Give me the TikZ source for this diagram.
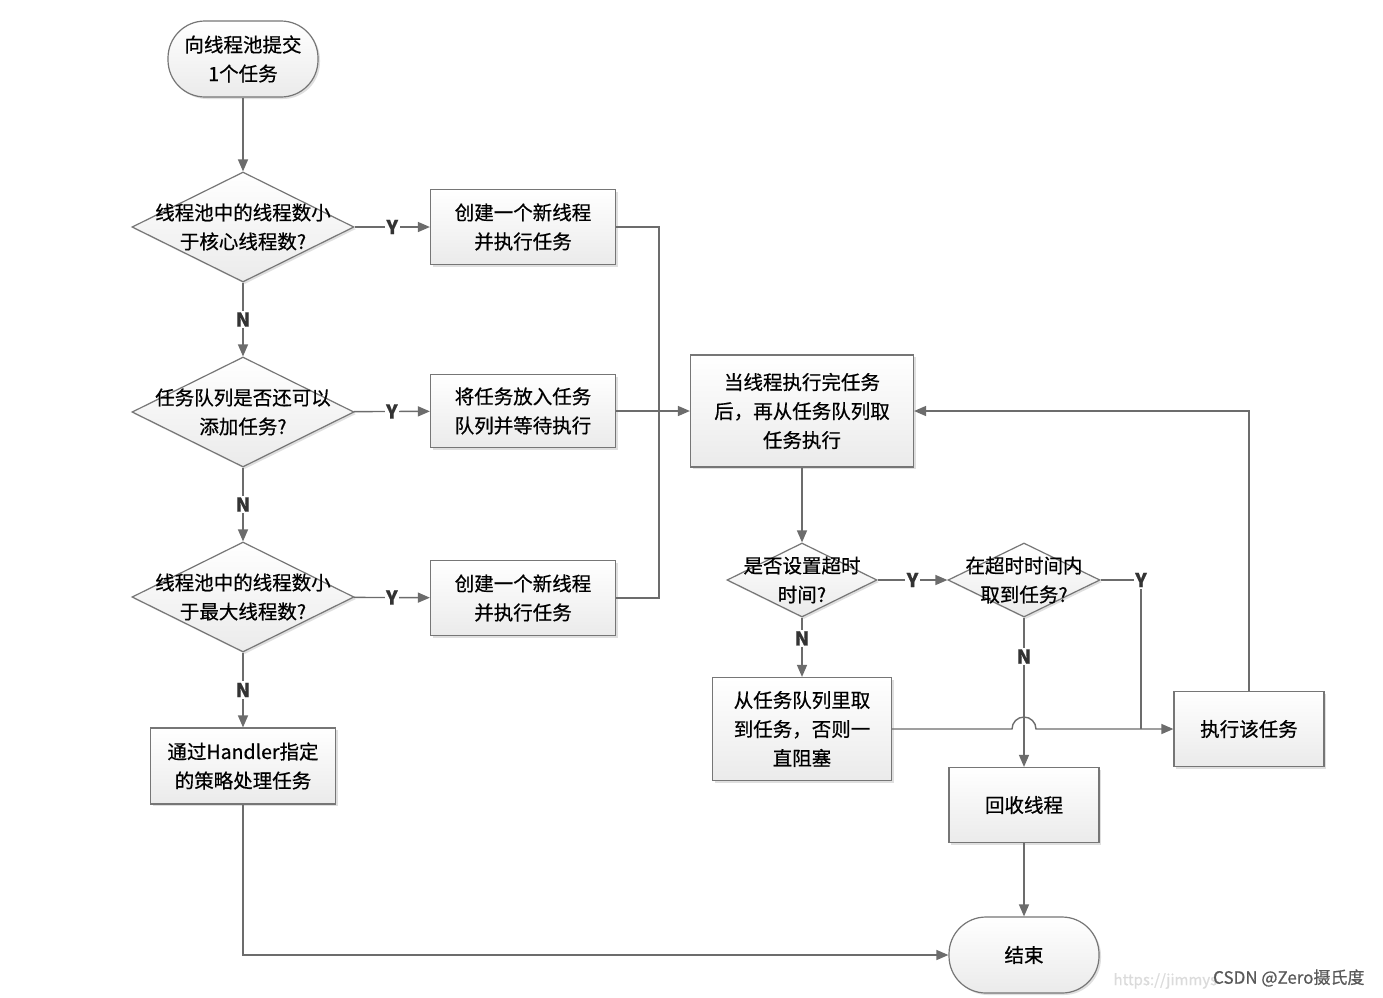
\documentclass[tikz,border=0pt]{standalone}
\usepackage{fontspec}
\setmainfont{Noto Sans CJK SC}[FakeBold=0.6]
\usetikzlibrary{shapes.geometric,arrows.meta,shadows}
\definecolor{linec}{RGB}{108,108,108}
\definecolor{edgec}{RGB}{118,118,118}

\begin{document}
\begin{tikzpicture}[x=1pt, y=-1pt, font=\fontsize{19.5}{29}\selectfont,
  shade/.style = {top color=white, bottom color=gray!16, drop shadow={opacity=0.25, shadow xshift=2pt, shadow yshift=-2pt}},
  box/.style = {draw=edgec, line width=1.2pt, shade, align=center, inner sep=0pt, minimum width=185pt, minimum height=75pt},
  term/.style = {box, rounded corners=37pt, minimum width=150pt, minimum height=76pt},
  dec/.style = {diamond, draw=edgec, line width=1.2pt, shade, inner sep=0pt, minimum width=222pt, minimum height=110pt},
  txt/.style = {align=center, inner sep=0pt},
  line/.style = {draw=linec, line width=1.4pt, -{Triangle[length=12pt, width=10pt]}},
  plain/.style = {draw=linec, line width=1.4pt},
  yn/.style = {fill=white, inner sep=1.5pt, font=\fontsize{19}{20}\selectfont\bfseries, text=black!80}]
  \useasboundingbox[fill=white] (0,0) rectangle (1383,997);

  \node[term] (1) at (243,59) {向线程池提交\\1个任务};
  \node[dec, label={[txt]center:{线程池中的线程数小\\于核心线程数?}}] (2) at (243,227) {};
  \node[box] (3) at (523,227) {创建一个新线程\\并执行任务};
  \node[dec, label={[txt]center:{任务队列是否还可以\\添加任务?}}] (4) at (243,412) {};
  \node[box, minimum height=73pt] (5) at (523,411) {将任务放入任务\\队列并等待执行};
  \node[dec, label={[txt]center:{线程池中的线程数小\\于最大线程数?}}] (6) at (243,597) {};
  \node[box] (7) at (523,598) {创建一个新线程\\并执行任务};
  \node[box, minimum height=76pt] (8) at (243,766) {通过Handler指定\\的策略处理任务};

  \node[box, minimum width=223pt, minimum height=112pt] (9) at (802,411) {当线程执行完任务\\后，再从任务队列取\\任务执行};
  \node[dec, minimum width=150pt, minimum height=74pt, label={[txt]center:{是否设置超时\\时间?}}] (10) at (802,580) {};
  \node[dec, minimum width=152pt, minimum height=74pt, label={[txt]center:{在超时时间内\\取到任务?}}] (11) at (1024,580) {};
  \node[box, minimum width=179pt, minimum height=103pt] (12) at (802,729) {从任务队列里取\\到任务，否则一\\直阻塞};
  \node[box, minimum width=150pt] (13) at (1249,729) {执行该任务};
  \node[box, minimum width=150pt] (14) at (1024,805) {回收线程};
  \node[term] (15) at (1024,955) {结束};

  \coordinate (j) at (659,411);
  \draw[line] (1) -- (2);
  \draw[line] (2) -- node[yn] {Y} (3);
  \draw[line] (2) -- node[yn] {N} (4);
  \draw[line] (4) -- node[yn] {Y} (5);
  \draw[line] (4) -- node[yn] {N} (6);
  \draw[line] (6) -- node[yn] {Y} (7);
  \draw[line] (6) -- node[yn] {N} (8);
  \draw[plain] (3) -| (j);
  \draw[plain] (7) -| (j);
  \draw[line] (5) -- (9);
  \draw[line] (8) |- (15);

  \draw[line] (9) -- (10);
  \draw[line] (10) -- node[yn] {Y} (11);
  \draw[line] (10) -- node[yn, pos=0.35] {N} (12);
  \draw[line] (11) -- node[yn, pos=0.26] {N} (14);
  \draw[line] (14) -- (15);
  \draw[line] (12) -- (1012,729) arc[start angle=180, end angle=360, radius=12] -- (13);
  \draw[plain] (11) -- (1141,580) node[yn] {Y} -- (1141,729);
  \draw[line] (13) |- (9);

  \node[anchor=west, text=gray!28, font=\fontsize{15}{18}\selectfont] (16) at (1110,981) {https://jimmys};
  \node[anchor=east, text=black!65, font=\fontsize{17}{20}\selectfont] (17) at (1368,978) {CSDN @Zero摄氏度};
\end{tikzpicture}
\end{document}
